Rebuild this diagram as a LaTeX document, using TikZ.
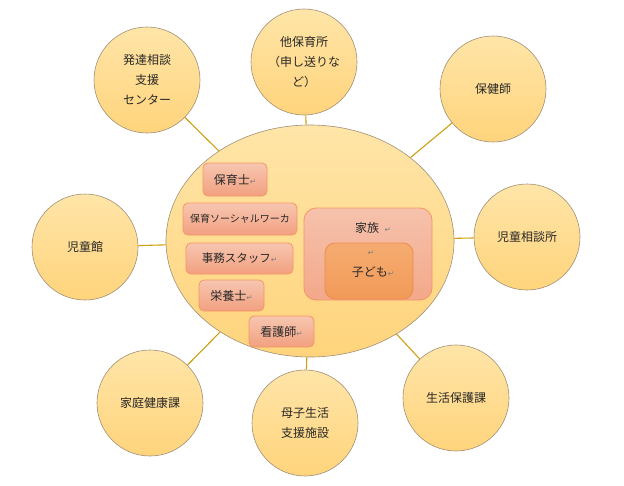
\documentclass[tikz,border=0pt]{standalone}
\usepackage{fontspec}
\newfontfamily\jp{Noto Sans CJK JP}
\newfontfamily\djv{DejaVu Sans}
\usetikzlibrary{shapes.geometric}
\definecolor{circtop}{RGB}{255,229,168}
\definecolor{circbot}{RGB}{255,212,124}
\definecolor{circborder}{RGB}{160,144,120}
\definecolor{conncol}{RGB}{208,160,16}
\definecolor{boxtop}{RGB}{247,198,176}
\definecolor{boxbot}{RGB}{242,160,128}
\definecolor{boxborder}{RGB}{244,150,100}
\definecolor{famtop}{RGB}{246,194,172}
\definecolor{fambot}{RGB}{243,168,138}
\definecolor{kidtop}{RGB}{245,172,112}
\definecolor{kidbot}{RGB}{242,154,88}
\definecolor{kidborder}{RGB}{236,140,80}
\definecolor{textcol}{RGB}{40,40,40}
\definecolor{retgray}{RGB}{125,125,125}
\newcommand\retmark{{\djv\fontsize{7.5}{8}\selectfont\textcolor{retgray}{↵}}}
\tikzset{
  circ/.style={circle, draw=circborder, line width=0.6pt, minimum size=106pt, inner sep=0pt,
    top color=circtop, bottom color=circbot, align=center, text=textcol,
    font=\jp\fontsize{12}{20}\selectfont},
  bigell/.style={ellipse, draw=circborder, line width=0.6pt, minimum width=288pt, minimum height=232pt,
    inner sep=0pt, top color=circtop, bottom color=circbot},
  stafbox/.style={rectangle, rounded corners=5pt, draw=boxborder, line width=0.8pt,
    top color=boxtop, bottom color=boxbot, inner sep=0pt, text=textcol,
    font=\jp\fontsize{12}{14}\selectfont},
  famstyle/.style={rectangle, rounded corners=12pt, draw=boxborder, line width=0.8pt,
    top color=famtop, bottom color=fambot, inner sep=0pt},
  kidstyle/.style={rectangle, rounded corners=10pt, draw=kidborder, line width=0.8pt,
    top color=kidtop, bottom color=kidbot, inner sep=0pt},
  lbl/.style={inner sep=0pt, text=textcol, font=\jp\fontsize{12}{14}\selectfont},
  conn/.style={draw=conncol, line width=1.1pt}
}
\begin{document}
\begin{tikzpicture}[x=1pt,y=-1pt]
\useasboundingbox (0,0) rectangle (624,485);
\fill[white] (0,0) rectangle (624,485);
% central ellipse
\node[bigell] (E) at (310,241) {};
% surrounding circles
\node[circ] (ctop) at (304,62) {他保育所\\（申し送りな\\ど）};
\node[circ] (ctl) at (147,80) {発達相談\\支援\\センター};
\node[circ] (ctr) at (493,89) {保健師};
\node[circ] (cl) at (85,247) {児童館};
\node[circ] (cr) at (527,237) {児童相談所};
\node[circ] (cbl) at (150,403) {家庭健康課};
\node[circ] (cb) at (305,423) {母子生活\\支援施設};
\node[circ] (cbr) at (456,398) {生活保護課};
% connectors
\foreach \c in {ctop,ctl,ctr,cl,cr,cbl,cb,cbr}
  \draw[conn] (E) -- (\c);
% staff boxes
\node[stafbox, minimum width=64pt, minimum height=33pt] (b1) at (235,179.5) {保育士\retmark};
\node[stafbox, minimum width=114pt, minimum height=32pt, font=\jp\fontsize{10}{12}\selectfont] (b2) at (240,219) {保育ソーシャルワーカ};
\node[stafbox, minimum width=107pt, minimum height=31pt, font=\jp\fontsize{11.5}{14}\selectfont] (b3) at (239.5,258.5) {事務スタッフ\retmark};
\node[stafbox, minimum width=65pt, minimum height=31pt] (b4) at (231.5,295.5) {栄養士\retmark};
\node[stafbox, minimum width=65pt, minimum height=31pt] (b5) at (281.5,331.5) {看護師\retmark};
% family and child
\node[famstyle, minimum width=128pt, minimum height=92pt] (fam) at (368,254) {};
\node[lbl] (famlbl) at (373,228) {家族\ \ \retmark};
\node[kidstyle, minimum width=88pt, minimum height=56pt] (kid) at (369,271) {};
\node[inner sep=0pt] (kidret) at (371,253) {\retmark};
\node[lbl] (kidlbl) at (373,272) {子ども\retmark};
\end{tikzpicture}
\end{document}
